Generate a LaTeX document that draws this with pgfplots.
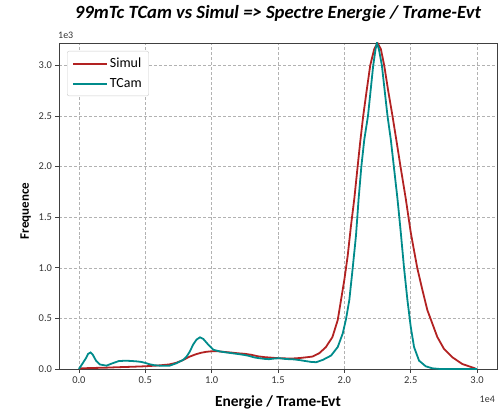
\documentclass[border=0pt]{standalone}
\usepackage{pgfplots}
\usepackage{pgfplotstable}
\pgfplotsset{compat=1.18}
\usepackage{fontspec}
\setmainfont{Carlito}
\definecolor{simred}{RGB}{178,34,34}
\definecolor{tcamteal}{RGB}{0,139,139}

\pgfplotstableread{
x y
0 5
500 8
1000 10
2000 13
3000 18
4000 22
5000 27
6000 35
6800 45
7300 60
7800 85
8300 120
8800 145
9200 160
9600 170
10000 175
10500 175
11000 168
11500 162
12000 155
12500 150
13000 140
13500 125
14000 117
14500 112
15000 107
15500 105
16000 103
16600 108
17100 115
17600 123
18100 155
18600 215
19100 315
19500 483
19750 683
20000 883
20250 1117
20500 1417
20750 1683
21000 2000
21200 2250
21420 2500
21680 2750
21950 3000
22250 3160
22500 3220
22750 3160
23000 3000
23300 2750
23625 2500
23930 2250
24230 2000
24625 1683
25000 1350
25250 1170
25500 993
25875 783
26250 583
26625 450
27000 317
27500 200
28125 117
28875 50
29875 5
}\simul

\pgfplotstableread{
x y
0 0
200 40
500 100
700 150
875 163
1050 140
1300 80
1575 45
2075 33
2500 55
3000 78
3500 82
3825 80
4300 76
4700 70
5000 60
5325 47
5700 37
6100 33
6840 33
7350 57
7850 90
8100 120
8360 173
8600 240
8860 290
9120 313
9370 297
9750 240
10130 190
10630 173
11140 163
11600 155
12050 147
12500 138
12800 130
13200 115
13560 107
14000 100
14320 97
14700 103
15080 107
15500 100
15830 97
16200 95
16625 88
17000 80
17500 70
17875 67
18375 90
19000 133
19500 217
19875 350
20125 493
20375 683
20625 993
20875 1317
21075 1683
21280 2000
21500 2265
21780 2500
22175 3000
22350 3160
22450 3220
22600 3160
22825 3000
23250 2500
23500 2265
24000 1683
24250 1350
24500 993
24750 683
25000 417
25250 217
25625 83
26125 27
26625 7
27200 0
30000 0
}\tcam

\begin{document}
\begin{tikzpicture}
\begin{axis}[
  name=ax,
  scale only axis, width=438bp, height=326bp,
  xmin=-1500, xmax=31500, ymin=0, ymax=3220,
  xtick={0,5000,10000,15000,20000,25000,30000},
  xticklabels={0.0,0.5,1.0,1.5,2.0,2.5,3.0},
  ytick={0,500,1000,1500,2000,2500,3000},
  yticklabels={0.0,0.5,1.0,1.5,2.0,2.5,3.0},
  scaled ticks=false,
  /pgf/number format/assume math mode=true,
  tick align=outside, tick pos=left,
  major tick length=3.5bp,
  tick style={black!75, line width=0.6pt},
  grid=major, grid style={densely dashed, black!30, line width=0.5pt},
  axis line style={black!75, line width=0.8pt},
  tick label style={font=\fontsize{10.5}{12}\selectfont, text=black!80},
  xticklabel style={yshift=-1bp},
  title={99mTc TCam vs Simul => Spectre Energie / Trame-Evt},
  title style={font=\fontsize{18.7}{21}\selectfont\bfseries\itshape, at={(axis description cs:0.5,1)}, anchor=base, yshift=19bp, inner sep=0pt},
  xlabel={Energie / Trame-Evt},
  xlabel style={font=\fontsize{15.5}{17}\selectfont\bfseries, at={(axis description cs:0.5,0)}, anchor=base, yshift=-37bp, inner sep=0pt},
  ylabel={Frequence},
  ylabel style={font=\fontsize{13}{15}\selectfont\bfseries, at={(axis description cs:-0.0685,0.485)}, anchor=base, inner sep=0pt},
  legend style={at={(axis description cs:0,1)}, anchor=north west, xshift=8bp, yshift=-8bp, draw=black!20, rounded corners=2bp, font=\fontsize{14}{16}\selectfont, row sep=5bp, inner xsep=5bp, inner ysep=5bp},
  legend cell align=left,
]
\addplot[simred, line width=1.8pt, legend image code/.code={\draw[simred, line width=1.8pt] (0bp,0bp) -- (34bp,0bp);}] table[x=x,y=y] {\simul};
\addlegendentry{Simul}
\addplot[tcamteal, line width=1.8pt, legend image code/.code={\draw[tcamteal, line width=1.8pt] (0bp,0bp) -- (34bp,0bp);}] table[x=x,y=y] {\tcam};
\addlegendentry{TCam}
\end{axis}
\node[anchor=base west, font=\fontsize{10}{12}\selectfont, text=black!80, inner sep=0pt] at ([shift={(-1bp,4bp)}]ax.north west) {1e3};
\node[anchor=base east, font=\fontsize{10}{12}\selectfont, text=black!80, inner sep=0pt] at ([shift={(-2bp,-33bp)}]ax.south east) {1e4};
\pgfresetboundingbox
\path ([shift={(-59bp,-40bp)}]ax.south west) rectangle ([shift={(2bp,43bp)}]ax.north east);
\end{tikzpicture}
\end{document}
